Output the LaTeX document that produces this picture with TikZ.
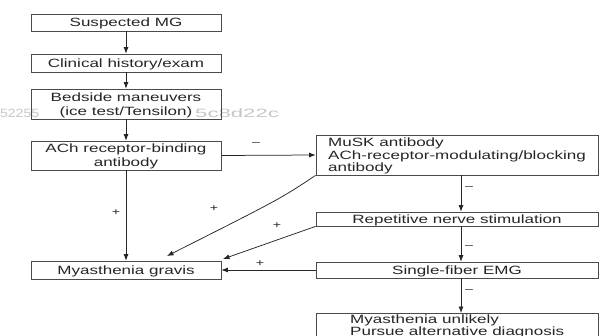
\documentclass[tikz,border=0pt]{standalone}
\usepackage{fontspec}
\setmainfont{Liberation Sans}[FakeStretch=1.42]
\usetikzlibrary{arrows.meta,calc}
\definecolor{ink}{HTML}{262626}
\definecolor{frame}{HTML}{4A4A4A}
\definecolor{wmark}{HTML}{C6C6C6}
\newcommand\sst{\rule[-2.6pt]{0pt}{13.7pt}}
\begin{document}
\begin{tikzpicture}[x=1pt,y=-1pt,
  box/.style={draw=frame, line width=0.75pt, inner sep=0pt, text=ink, align=center,
    font=\fontsize{12}{13}\selectfont},
  txt/.style={inner sep=0pt, text=ink, font=\fontsize{12}{12.5}\selectfont},
  conn/.style={draw=ink, line width=0.75pt, -{Latex[length=6.5pt,width=5pt]}},
  lbl/.style={inner sep=0pt, text=ink, font=\fontsize{10}{10}\selectfont},
  wm/.style={inner sep=0pt, text=wmark, font=\fontsize{12}{12}\selectfont}]
\clip (0,0) rectangle (601,336);
\fill[white] (0,0) rectangle (601,336);
% watermark fragments
\node[wm, anchor=west] (wa) at (0,113) {\scalebox{0.82}[1]{52255}};
\node[wm, anchor=west] (wb) at (195,113) {\scalebox{1.3}[1]{5c8d22c}};
% left column
\node[box, minimum width=190pt, minimum height=17pt] (sus) at (126,22.5) {\sst Suspected MG};
\node[box, minimum width=190pt, minimum height=18pt] (clin) at (126,63) {\sst Clinical history/exam};
\node[box, minimum width=190pt, minimum height=30pt, font=\fontsize{12}{14.5}\selectfont] (bed) at (126,104) {\sst Bedside maneuvers\\(ice test/Tensilon)};
\node[box, minimum width=190pt, minimum height=29pt, font=\fontsize{12}{14}\selectfont] (ach) at (126,155.5) {\sst ACh receptor-binding\\antibody\rule[-2.6pt]{0pt}{1pt}};
\node[box, minimum width=190pt, minimum height=18pt] (mg) at (126,270) {\sst Myasthenia gravis};
% right column
\node[box, minimum width=282pt, minimum height=40pt, align=left, font=\fontsize{12}{12.5}\selectfont] (musk) at (457,155) {\sst MuSK antibody\\ACh-receptor-modulating/blocking\\antibody\rule[-2.6pt]{0pt}{1pt}};
\node[box, minimum width=282pt, minimum height=14pt] (rns) at (457,219) {\sst Repetitive nerve stimulation};
\node[box, minimum width=282pt, minimum height=16pt] (sf) at (457,270) {\sst Single-fiber EMG};
\node[box, minimum width=282pt, minimum height=28pt, anchor=north] (unl) at (457,313) {};
\node[txt, align=left, anchor=north west, font=\fontsize{12}{9.6}\selectfont] (unltxt) at (350,314.3) {Myasthenia unlikely\\Pursue alternative diagnosis};
% connectors
\coordinate (rx) at (461,0);
\coordinate (d1) at (167,256);
\coordinate (d2) at (223,259);
\draw[conn] (sus) -- (clin);
\draw[conn] (clin) -- (bed);
\draw[conn] (bed) -- (ach);
\draw[conn] (ach) -- (mg);
\draw[conn] (ach.east) -- (musk.west);
\draw[conn] (musk.south -| rx) -- (rns.north -| rx);
\draw[conn] (rns.south -| rx) -- (sf.north -| rx);
\draw[conn] (sf.south -| rx) -- (unl.north -| rx);
\draw[conn] (sf.west) -- (mg.east);
\draw[conn] (musk.south west) .. controls (280,199) .. (d1);
\draw[conn] (rns.south west) -- (d2);
% labels
\node[lbl] (p1) at (116,213) {+};
\node[lbl] (p2) at (214,209) {+};
\node[lbl] (p3) at (277,226) {+};
\node[lbl] (p4) at (260,264) {+};
\node[lbl] (m1) at (256,144) {–};
\node[lbl] (m2) at (469,188) {–};
\node[lbl] (m3) at (469,247) {–};
\node[lbl] (m4) at (469,291) {–};
\end{tikzpicture}
\end{document}
